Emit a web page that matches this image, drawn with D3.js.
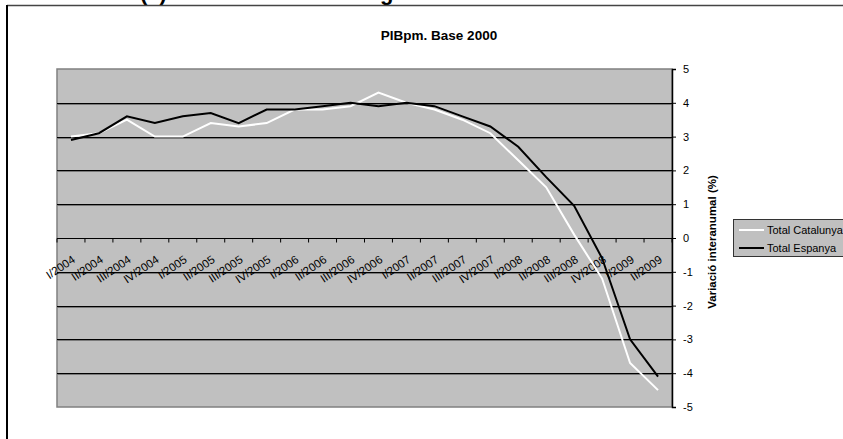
<!DOCTYPE html>
<html>
<head>
<meta charset="utf-8">
<script src="https://cdn.jsdelivr.net/npm/d3@7"></script>
<style>
  html, body { margin: 0; padding: 0; background: #fff; }
  svg { display: block; font-family: "Liberation Sans", Arial, sans-serif; }
</style>
</head>
<body>
<svg id="chart" width="843" height="439"></svg>
<script>
const categories = ["I/2004","II/2004","III/2004","IV/2004","I/2005","II/2005","III/2005","IV/2005",
  "I/2006","II/2006","III/2006","IV/2006","I/2007","II/2007","III/2007","IV/2007",
  "I/2008","II/2008","III/2008","IV/2008","I/2009","II/2009"];
const catalunya = [3.0,3.1,3.5,3.0,3.0,3.4,3.3,3.4,3.8,3.8,3.9,4.3,4.0,3.8,3.5,3.1,2.3,1.5,0.1,-1.2,-3.7,-4.5];
const espanya   = [2.9,3.1,3.6,3.4,3.6,3.7,3.4,3.8,3.8,3.9,4.0,3.9,4.0,3.9,3.6,3.3,2.7,1.8,0.95,-0.6,-3.0,-4.1];
const yTicks = [-5,-4,-3,-2,-1,0,1,2,3,4,5];
const seriesNames = ["Total Catalunya","Total Espanya"];
const title = "PIBpm. Base 2000";
const yTitle = "Variació interanumal (%)";

const svg = d3.select("#chart");
const L = 57, R = 672, T = 69, B = 407;

const x = d3.scaleBand().domain(categories).range([L, R]);
const y = d3.scaleLinear().domain([-5, 5]).range([B, T]);
const cx = c => x(c) + x.bandwidth() / 2;

// clipped heading above the chart box (only descenders visible, as in the reference)
const clip = svg.append("clipPath").attr("id", "topclip");
clip.append("rect").attr("x", 0).attr("y", 0).attr("width", 843).attr("height", 5);
const head = svg.append("g").attr("clip-path", "url(#topclip)")
  .attr("font-weight", "bold").attr("font-size", 22).attr("fill", "#000");
head.append("text").attr("x", 140).attr("y", 0).text("(1)");
head.append("text").attr("x", 380).attr("y", 0).text("g");

// outer chart border
svg.append("line").attr("x1", 7).attr("x2", 843).attr("y1", 5.5).attr("y2", 5.5)
  .attr("stroke", "#444").attr("stroke-width", 1.5);
svg.append("line").attr("x1", 7).attr("x2", 7).attr("y1", 5).attr("y2", 439)
  .attr("stroke", "#000").attr("stroke-width", 2);

// title
svg.append("text").attr("x", 439).attr("y", 40).attr("text-anchor", "middle")
  .attr("font-weight", "bold").attr("font-size", 13.5).attr("fill", "#000").text(title);

// plot area
svg.append("rect").attr("x", L).attr("y", T).attr("width", R - L).attr("height", B - T)
  .attr("fill", "#c0c0c0").attr("stroke", "#808080").attr("stroke-width", 1.5);

// gridlines
const grid = svg.append("g");
yTicks.filter(v => v > -5 && v < 5 && v !== 0).forEach(v => {
  grid.append("line").attr("x1", L).attr("x2", R).attr("y1", Math.round(y(v)) + 1.5).attr("y2", Math.round(y(v)) + 1.5)
    .attr("stroke", "#7a7a7a").attr("stroke-width", 1);
  grid.append("line").attr("x1", L).attr("x2", R).attr("y1", Math.round(y(v)) + 0.5).attr("y2", Math.round(y(v)) + 0.5)
    .attr("stroke", "#000").attr("stroke-width", 1);
});

// x axis at zero
const y0 = Math.round(y(0)) + 0.5;
svg.append("line").attr("x1", L).attr("x2", R).attr("y1", y0).attr("y2", y0)
  .attr("stroke", "#000").attr("stroke-width", 1.2);
const bounds = categories.map(c => x(c)).concat([x(categories[categories.length - 1]) + x.bandwidth()]);
svg.append("g").selectAll("line").data(bounds).join("line")
  .attr("x1", d => d).attr("x2", d => d).attr("y1", y0).attr("y2", y0 + 4)
  .attr("stroke", "#000").attr("stroke-width", 1);
svg.append("g").selectAll("text").data(categories).join("text")
  .attr("transform", d => `translate(${cx(d) + 5},${y0 + 23}) rotate(-34)`)
  .attr("text-anchor", "end").attr("font-size", 11.5).attr("fill", "#000").text(d => d);

// right y axis
const yAxis = svg.append("g").attr("transform", `translate(${R},0)`)
  .call(d3.axisRight(y).tickValues(yTicks).tickSize(4).tickPadding(7).tickFormat(d => String(d)));
yAxis.select(".domain").attr("stroke", "#000").attr("stroke-width", 1.5);
yAxis.selectAll(".tick line").attr("stroke", "#000");
yAxis.selectAll(".tick text").attr("font-size", 11).attr("fill", "#000")
  .attr("font-family", "\"Liberation Sans\", Arial, sans-serif");

svg.append("text").attr("transform", `translate(716,${(T + B) / 2 + 4}) rotate(-90)`)
  .attr("text-anchor", "middle").attr("font-weight", "bold").attr("font-size", 11.5).attr("fill", "#000")
  .text(yTitle);

// lines
const line = d3.line().x((d, i) => cx(categories[i])).y(d => y(d));
svg.append("path").datum(catalunya).attr("d", line).attr("fill", "none")
  .attr("stroke", "#fff").attr("stroke-width", 2);
svg.append("path").datum(espanya).attr("d", line).attr("fill", "none")
  .attr("stroke", "#000").attr("stroke-width", 2);

// legend
const lg = svg.append("g");
lg.append("rect").attr("x", 733.5).attr("y", 219.5).attr("width", 130).attr("height", 37)
  .attr("fill", "#c0c0c0").attr("stroke", "#333").attr("stroke-width", 1);
const colors = ["#fff", "#000"];
seriesNames.forEach((n, i) => {
  const yy = 230 + i * 18;
  lg.append("line").attr("x1", 739).attr("x2", 764).attr("y1", yy).attr("y2", yy)
    .attr("stroke", colors[i]).attr("stroke-width", 2);
  lg.append("text").attr("x", 767).attr("y", yy + 3.5).attr("font-size", 11).attr("fill", "#000").text(n);
});
</script>
</body>
</html>
